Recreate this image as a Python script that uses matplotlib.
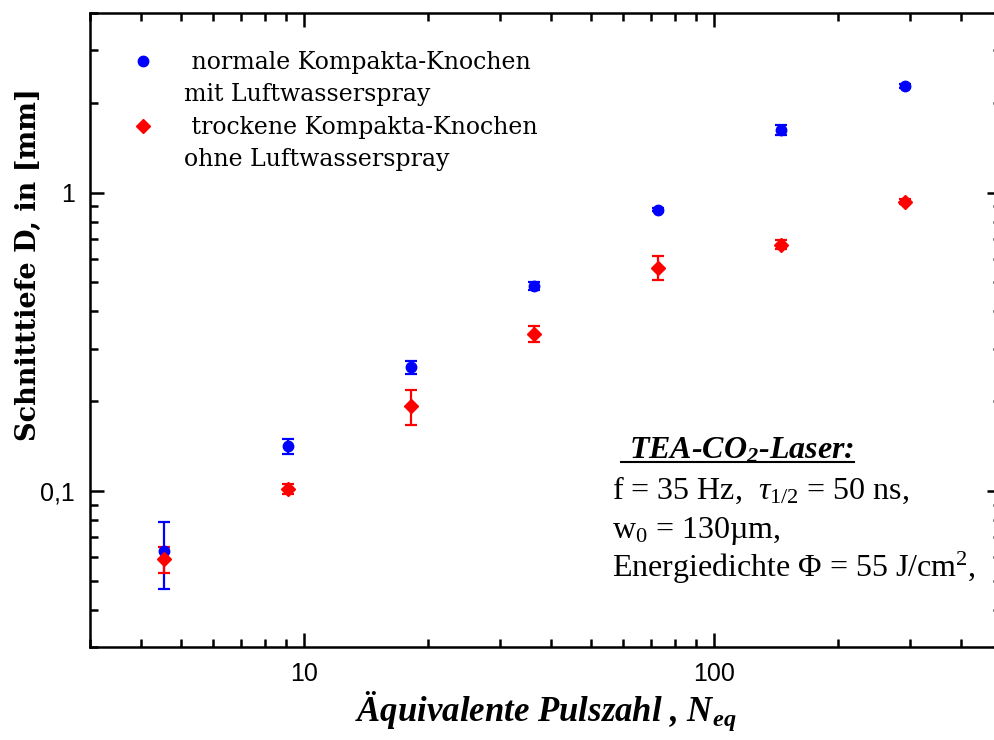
import matplotlib
matplotlib.use('Agg')
import matplotlib.pyplot as plt
from matplotlib.lines import Line2D
from matplotlib.ticker import LogLocator, FuncFormatter, NullFormatter
import numpy as np

matplotlib.rc('mathtext', fontset='custom', rm='Liberation Serif',
              it='Liberation Serif:italic',
              bf='Liberation Serif:style=italic:weight=bold')

# Äquivalente Pulszahl
N_eq = [4.55, 9.1, 18.2, 36.4, 72.8, 145.6, 291.2]

# Schnitttiefe in mm, mit Fehlern
D_nass = [0.063, 0.141, 0.260, 0.485, 0.877, 1.625, 2.28]
err_nass = [0.016, 0.008, 0.013, 0.015, 0.012, 0.06, 0.04]
D_trocken = [0.059, 0.1015, 0.192, 0.337, 0.561, 0.670, 0.933]
err_trocken = [0.006, 0.004, 0.026, 0.021, 0.05, 0.022, 0.02]

L = [' normale Kompakta-Knochen', 'mit Luftwasserspray',
     ' trockene Kompakta-Knochen', 'ohne Luftwasserspray']

fig = plt.figure(figsize=(9.95, 7.4), dpi=100)
ax = fig.add_axes([90/995, 93/740, 911/995, 634/740])

eb1 = ax.errorbar(N_eq, D_nass, yerr=err_nass, fmt='o', color='#0000ff',
                  ms=7.5, elinewidth=1.6, capsize=4.5, capthick=1.6)
eb2 = ax.errorbar(N_eq, D_trocken, yerr=err_trocken, fmt='D', color='#ff0000',
                  ms=7, elinewidth=1.6, capsize=4.5, capthick=1.6)

ax.set_xscale('log')
ax.set_yscale('log')
ax.set_xlim(3, 500)
ax.set_ylim(0.03, 4)

ax.xaxis.set_minor_locator(LogLocator(base=10, subs=np.arange(2, 10)))
ax.yaxis.set_minor_locator(LogLocator(base=10, subs=np.arange(2, 10)))
ax.xaxis.set_minor_formatter(NullFormatter())
ax.yaxis.set_minor_formatter(NullFormatter())
comma = FuncFormatter(lambda v, p: '{:g}'.format(v).replace('.', ','))
ax.xaxis.set_major_formatter(comma)
ax.yaxis.set_major_formatter(comma)

for s in ax.spines.values():
    s.set_linewidth(1.8)
ax.tick_params(which='both', direction='in', top=True, right=True, width=1.8)
ax.tick_params(which='major', length=10, pad=11)
ax.tick_params(which='minor', length=6)
for lab in ax.get_xticklabels() + ax.get_yticklabels():
    lab.set_fontfamily('Liberation Sans')
    lab.set_fontsize(18)

ax.set_xlabel('Äquivalente Pulszahl , $\\mathbf{N}_{\\mathbf{eq}}$',
              family='Liberation Serif', weight='bold', style='italic',
              fontsize=25, labelpad=2)
ax.set_ylabel('Schnitttiefe D, in [mm]', family='DejaVu Serif',
              weight='bold', fontsize=19.5)
ax.yaxis.set_label_coords(-0.053, 0.604)

blank = Line2D([], [], linestyle='none', marker='none')
ax.legend([eb1[0], blank, eb2[0], blank], L, loc='upper left',
          bbox_to_anchor=(0.045, 0.94), borderaxespad=0, borderpad=0,
          frameon=False, handlelength=1.0, handletextpad=1.25,
          labelspacing=0.4, prop={'family': 'DejaVu Serif', 'size': 17})

tf = dict(transform=ax.transAxes, family='Liberation Serif', fontsize=23,
          va='baseline')
title = ax.text(0.583, 0.297, ' TEA-CO$_\\mathbf{2}$-Laser:', weight='bold',
                style='italic', **tf)
ax.text(0.573, 0.233, 'f = 35 Hz,  $\\tau_{1/2}$ = 50 ns,', **tf)
ax.text(0.573, 0.172, 'w$_0$ = 130µm,', **tf)
ax.text(0.573, 0.110, 'Energiedichte Φ = 55 J/cm$^2$,', **tf)

# Unterstreichung der Überschrift
fig.canvas.draw()
bb = title.get_window_extent()
base = ax.transAxes.transform((0.583, 0.297))[1] - 3
inv = fig.transFigure.inverted()
(x0, y0), (x1, _) = inv.transform([(bb.x0, base), (bb.x1, base)])
fig.add_artist(Line2D([x0, x1], [y0, y0], color='black', lw=1.5,
                      transform=fig.transFigure))

plt.savefig('out.png', dpi=100)
